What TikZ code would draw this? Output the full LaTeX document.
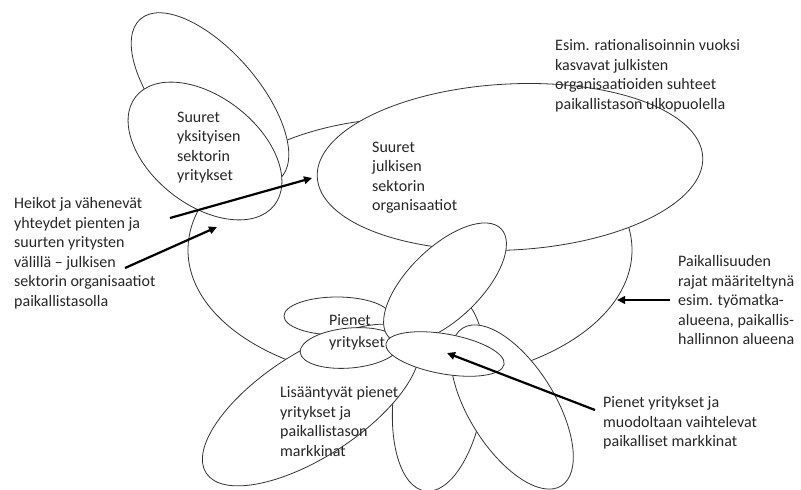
\documentclass[tikz,border=0pt]{standalone}
\usepackage{fontspec}
\setmainfont{Carlito}
\usetikzlibrary{arrows.meta, shapes.geometric}

\tikzset{
  blob/.style={ellipse, draw=black!80, line width=0.8pt, fill=white, inner sep=0pt},
  note/.style={anchor=north west, inner sep=0pt, align=left, text=black!85,
    font=\fontsize{16}{19.5}\selectfont},
  pointer/.style={-{Triangle[length=8pt, width=7.5pt]}, line width=2.2pt, black}
}

\begin{document}
\begin{tikzpicture}[x=1pt, y=-1pt]
    \useasboundingbox (0,0) rectangle (801,490);

    % paikallisuuden raja
    \node[blob, minimum width=444pt, minimum height=264pt] (locality) at (410,250) {};
    % suuret yksityiset
    \node[blob, minimum width=212pt, minimum height=98pt, rotate=-49] (privBack) at (210,99) {};
    \node[blob, minimum width=176pt, minimum height=108pt, rotate=-38] (privLarge) at (205,151) {};
    % suuret julkiset
    \node[blob, minimum width=386pt, minimum height=166pt, rotate=3] (publicLarge) at (510,167) {};
    % pienet yritykset ja markkinat
    \node[blob, minimum width=106pt, minimum height=38pt] (smallBack) at (337,316) {};
    \node[blob, minimum width=198pt, minimum height=90pt, rotate=82] (petalMid) at (439,393) {};
    \node[blob, minimum width=186pt, minimum height=86pt, rotate=-58] (petalRight) at (512,407) {};
    \node[blob, minimum width=250pt, minimum height=104pt, rotate=33] (growing) at (311,405) {};
    \node[blob, minimum width=100pt, minimum height=40pt, rotate=5] (smallFront) at (350,348) {};
    \node[blob, minimum width=156pt, minimum height=72pt, rotate=44] (petalCentre) at (445,283) {};
    \node[blob, minimum width=120pt, minimum height=40pt, rotate=-10] (markets) at (445,354) {};

    \node[note] (privText) at (177,111.5) {Suuret\\yksityisen\\sektorin\\yritykset};
    \node[note] (publicText) at (372,141.5) {Suuret\\julkisen\\sektorin\\organisaatiot};
    \node[note] (esimText) at (555,39.5) {Esim. rationalisoinnin vuoksi\\kasvavat julkisten\\organisaatioiden suhteet\\paikallistason ulkopuolella};
    \node[note] (heikotText) at (14,197.5) {Heikot ja vähenevät\\yhteydet pienten ja\\suurten yritysten\\välillä – julkisen\\sektorin organisaatiot\\paikallistasolla};
    \node[note] (rajaText) at (678,255.5) {Paikallisuuden\\rajat määriteltynä\\esim. työmatka-\\alueena, paikallis-\\hallinnon alueena};
    \node[note] (smallText) at (329,314.5) {Pienet\\[2pt]yritykset};
    \node[note] (growText) at (280,386.5) {Lisääntyvät pienet\\yritykset ja\\paikallistason\\markkinat};
    \node[note] (marketText) at (603,396.5) {Pienet yritykset ja\\muodoltaan vaihtelevat\\paikalliset markkinat};

    \coordinate (heikotFrom1) at (170,218);
    \coordinate (heikotFrom2) at (125,268);
    \coordinate (publicIn) at (312,178);
    \coordinate (localityIn) at (217,227);
    \coordinate (marketFrom) at (595,410);
    \coordinate (marketsIn) at (447,353);
    \coordinate (rajaFrom) at (670,300);
    \coordinate (localityEdge) at (617,300);

    \draw[pointer] (heikotFrom1) -- (publicIn);
    \draw[pointer] (heikotFrom2) -- (localityIn);
    \draw[pointer] (marketFrom) -- (marketsIn);
    \draw[pointer] (rajaFrom) -- (localityEdge);

\end{tikzpicture}
\end{document}
